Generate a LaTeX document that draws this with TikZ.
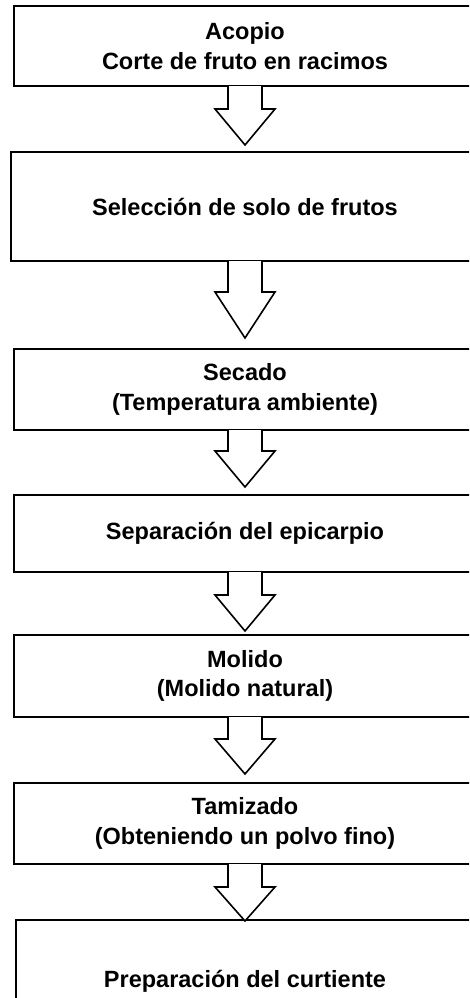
\documentclass[tikz,border=0pt]{standalone}
\usepackage{fontspec}
\setmainfont{Liberation Sans}
\usetikzlibrary{calc}
\newcommand\flowarrow[4]{%
  \draw[flowarr] ($(#1.south)+(-17,1)$) -- ($(#1.south)+(-17,-#3)$) -- ($(#1.south)+(-30,-#3)$)
    -- ($(#2.north)+(0,#4)$) -- ($(#1.south)+(30,-#3)$) -- ($(#1.south)+(17,-#3)$) -- ($(#1.south)+(17,1)$);}
\begin{document}
\begin{tikzpicture}[x=1pt,y=1pt,
  box/.style={draw=black, line width=2pt, rectangle, minimum width=462pt, inner sep=0pt,
    align=center, font=\fontsize{23.5}{29.5}\selectfont\bfseries},
  flowarr/.style={draw=black, fill=white, line width=1.6pt, line join=miter}]
\useasboundingbox (0,0) rectangle (469,-998);
\fill[white] (0,0) rectangle (469,-998);
\clip (0,0) rectangle (469,-998);
\node[box, minimum height=80pt] (b1) at (245,-46) {Acopio\\Corte de fruto en racimos};
\node[box, minimum height=109pt, minimum width=468pt] (b2) at (245,-206.5) {Selección de solo de frutos};
\node[box, minimum height=81pt] (b3) at (245,-389.5) {Secado\\(Temperatura ambiente)};
\node[box, minimum height=77pt] (b4) at (245,-533.5) {\raisebox{6pt}{Separación del epicarpio}};
\node[box, minimum height=82pt] (b5) at (245,-676) {Molido\\(Molido natural)};
\node[box, minimum height=81pt] (b6) at (245,-823.5) {\raisebox{6pt}{\begin{tabular}{@{}c@{}}Tamizado\\(Obteniendo un polvo fino)\end{tabular}}};
\node[box, minimum height=160pt, minimum width=458pt] (b7) at (245,-1000) {\raisebox{42pt}{Preparación del curtiente}};
\flowarrow{b1}{b2}{22}{6}
\flowarrow{b2}{b3}{30}{10}
\flowarrow{b3}{b4}{20}{7}
\flowarrow{b4}{b5}{22}{3}
\flowarrow{b5}{b6}{21}{8}
\flowarrow{b6}{b7}{22}{-2}
\end{tikzpicture}
\end{document}
